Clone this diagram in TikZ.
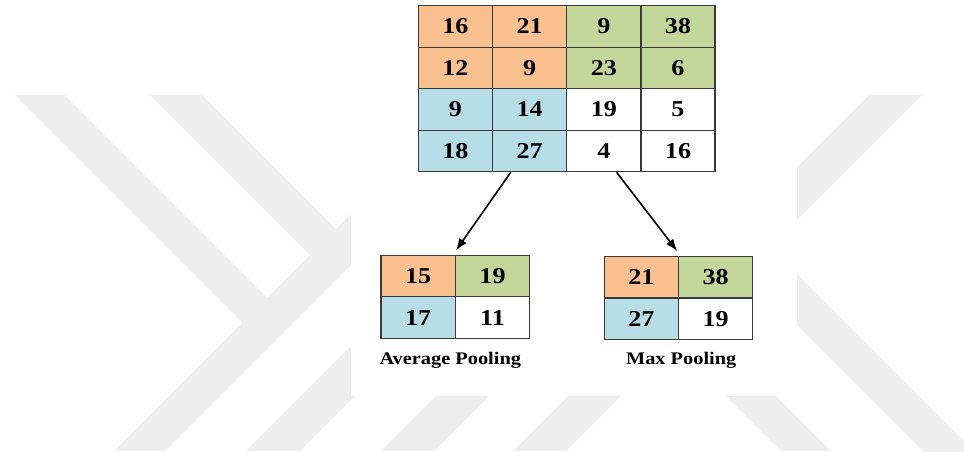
\documentclass[tikz,border=0pt]{standalone}
\usepackage{fontspec}
\setmainfont{Liberation Serif}[FakeStretch=1.15]
\usetikzlibrary{arrows.meta,calc}
\definecolor{cOr}{HTML}{FAC090}
\definecolor{cGr}{HTML}{C4D79B}
\definecolor{cBl}{HTML}{B7DEE8}
\definecolor{wm}{HTML}{EEEEEE}
\definecolor{gl}{HTML}{3A3A3A}
\begin{document}
\begin{tikzpicture}[x=1pt,y=-1pt,
  cell/.style={draw=gl,line width=1.3pt,minimum width=74.2pt,minimum height=41.5pt,
    inner sep=0pt,font=\fontsize{22.7}{24}\selectfont\bfseries,text=black},
  orc/.style={cell,fill=cOr},
  grc/.style={cell,fill=cGr},
  blc/.style={cell,fill=cBl},
  whc/.style={cell,fill=white},
  lbl/.style={anchor=base,inner sep=0pt,font=\fontsize{17.7}{20}\selectfont\bfseries},
  arr/.style={draw=black,line width=1.6pt,-{Latex[length=12pt,width=9pt]}},
  band/.style={fill=wm,draw=none}]
\useasboundingbox (0,0) rectangle (964,451);
\fill[white] (0,0) rectangle (964,451);
% watermark
\begin{scope}
\clip (0,0) rectangle (964,451);
\fill[band] (15,95) -- (65,95) -- (267.5,297.5) -- (242.5,322.5) -- cycle;
\fill[band] (150,95) -- (202,95) -- (336,229) -- (310,255) -- cycle;
\fill[band] (114,451) -- (165,451) -- (466,150) -- (415,150) -- cycle;
\fill[band] (246,451) -- (300,451) -- (520,231) -- (466,231) -- cycle;
\fill[band] (381,451) -- (434,451) -- (534,351) -- (481,351) -- cycle;
\fill[band] (869,95) -- (922,95) -- (566,451) -- (513,451) -- cycle;
\fill[band] (781,451) -- (831,451) -- (680,300) -- (630,300) -- cycle;
\fill[band] (700,228) -- (751,228) -- (1023,500) -- (972,500) -- cycle;
\end{scope}
\fill[white] (351,0) rectangle (797,396);
% main grid
\node[orc] (m11) at (455.4,26.45) {16};
\node[orc] (m12) at (529.6,26.45) {21};
\node[grc] (m13) at (603.8,26.45) {9};
\node[grc] (m14) at (678.0,26.45) {38};
\node[orc] (m21) at (455.4,67.95) {12};
\node[orc] (m22) at (529.6,67.95) {9};
\node[grc] (m23) at (603.8,67.95) {23};
\node[grc] (m24) at (678.0,67.95) {6};
\node[blc] (m31) at (455.4,109.45) {9};
\node[blc] (m32) at (529.6,109.45) {14};
\node[whc] (m33) at (603.8,109.45) {19};
\node[whc] (m34) at (678.0,109.45) {5};
\node[blc] (m41) at (455.4,150.95) {18};
\node[blc] (m42) at (529.6,150.95) {27};
\node[whc] (m43) at (603.8,150.95) {4};
\node[whc] (m44) at (678.0,150.95) {16};
% average pooling grid
\node[orc] (a11) at (418.2,275.9) {15};
\node[grc] (a12) at (492.5,275.9) {19};
\node[blc] (a21) at (418.2,317.5) {17};
\node[whc] (a22) at (492.5,317.5) {11};
% max pooling grid
\node[orc] (x11) at (641.4,277.4) {21};
\node[grc] (x12) at (715.6,277.4) {38};
\node[blc] (x21) at (641.4,318.6) {27};
\node[whc] (x22) at (715.6,318.6) {19};
% labels
\node[lbl] (lavg) at (450.3,364.3) {Average Pooling};
\node[lbl] (lmax) at (681.2,364.3) {Max Pooling};
% arrows
\draw[arr] ($(m42.south west)!0.25!(m42.south east)$) -- ($(a11.north east)+(0,-4)$);
\draw[arr] ($(m43.south west)!0.67!(m43.south east)$) -- ($(x11.north east)+(-2,-5)$);
\end{tikzpicture}
\end{document}
